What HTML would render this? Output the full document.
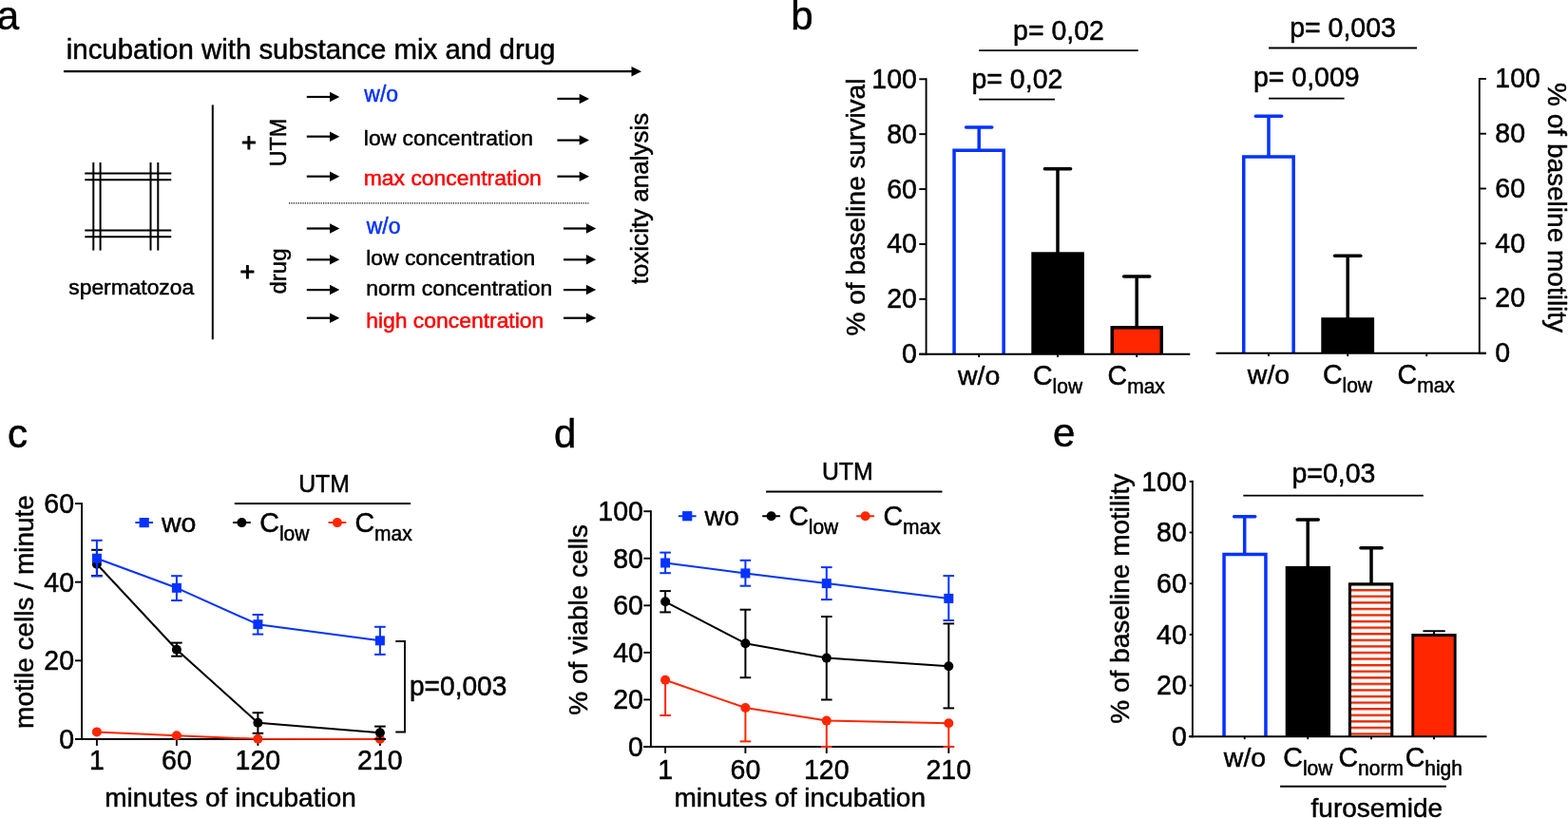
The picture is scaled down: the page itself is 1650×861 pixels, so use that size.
<!DOCTYPE html>
<html lang="en">
<head>
<meta charset="utf-8">
<title>Figure</title>
<style>
html, body { margin: 0; padding: 0; background: #fff; }
body { width: 1650px; height: 861px; overflow: hidden; }
svg { display: block; font-family: 'Liberation Sans', Arial, Helvetica, sans-serif; }
text { fill: #000; stroke: #000; stroke-width: 0.5px; stroke-linejoin: round; }
</style>
</head>
<body>
<svg width="1650" height="861" viewBox="0 0 1650 861">
<rect x="0" y="0" width="1650" height="861" fill="#fff"/>
<g id="panel-a">
<text transform="translate(-3.20 30.90)" font-size="42">a</text>
<text transform="translate(69.80 62.20)" font-size="29.4">incubation with substance mix and drug</text>
<line x1="67.00" y1="75.20" x2="665.50" y2="75.20" stroke="#000" stroke-width="2.2" stroke-linecap="butt"/>
<polygon points="675.00,75.20 664.50,69.95 664.50,80.45"/>
<line x1="223.80" y1="110.40" x2="223.80" y2="357.30" stroke="#000" stroke-width="2.0" stroke-linecap="butt"/>
<line x1="98.30" y1="171.00" x2="98.30" y2="263.60" stroke="#000" stroke-width="2.0" stroke-linecap="butt"/>
<line x1="105.60" y1="171.00" x2="105.60" y2="263.60" stroke="#000" stroke-width="2.0" stroke-linecap="butt"/>
<line x1="158.50" y1="171.00" x2="158.50" y2="263.60" stroke="#000" stroke-width="2.0" stroke-linecap="butt"/>
<line x1="166.30" y1="171.00" x2="166.30" y2="263.60" stroke="#000" stroke-width="2.0" stroke-linecap="butt"/>
<line x1="89.30" y1="182.50" x2="180.30" y2="182.50" stroke="#000" stroke-width="2.0" stroke-linecap="butt"/>
<line x1="89.30" y1="189.30" x2="180.30" y2="189.30" stroke="#000" stroke-width="2.0" stroke-linecap="butt"/>
<line x1="89.30" y1="242.50" x2="180.30" y2="242.50" stroke="#000" stroke-width="2.0" stroke-linecap="butt"/>
<line x1="89.30" y1="249.30" x2="180.30" y2="249.30" stroke="#000" stroke-width="2.0" stroke-linecap="butt"/>
<text transform="translate(72.30 309.70)" font-size="22.8">spermatozoa</text>
<text transform="translate(262.00 159.10)" font-size="27" text-anchor="middle" style="stroke-width:1.0px">+</text>
<text transform="translate(260.40 295.00)" font-size="27" text-anchor="middle" style="stroke-width:1.0px">+</text>
<text transform="translate(301.30 150.00) rotate(-90)" font-size="23.3" text-anchor="middle">UTM</text>
<text transform="translate(301.00 285.50) rotate(-90)" font-size="24" text-anchor="middle">drug</text>
<text transform="translate(682.30 209.00) rotate(-90)" font-size="26" text-anchor="middle">toxicity analysis</text>
<line x1="322.80" y1="102.00" x2="348.00" y2="102.00" stroke="#000" stroke-width="2.2" stroke-linecap="butt"/>
<polygon points="357.30,102.00 347.00,96.75 347.00,107.25"/>
<line x1="322.80" y1="143.70" x2="348.00" y2="143.70" stroke="#000" stroke-width="2.2" stroke-linecap="butt"/>
<polygon points="357.30,143.70 347.00,138.45 347.00,148.95"/>
<line x1="322.80" y1="185.70" x2="348.00" y2="185.70" stroke="#000" stroke-width="2.2" stroke-linecap="butt"/>
<polygon points="357.30,185.70 347.00,180.45 347.00,190.95"/>
<line x1="586.40" y1="103.90" x2="610.70" y2="103.90" stroke="#000" stroke-width="2.2" stroke-linecap="butt"/>
<polygon points="620.00,103.90 609.70,98.65 609.70,109.15"/>
<line x1="586.40" y1="147.60" x2="610.70" y2="147.60" stroke="#000" stroke-width="2.2" stroke-linecap="butt"/>
<polygon points="620.00,147.60 609.70,142.35 609.70,152.85"/>
<line x1="586.40" y1="185.70" x2="610.70" y2="185.70" stroke="#000" stroke-width="2.2" stroke-linecap="butt"/>
<polygon points="620.00,185.70 609.70,180.45 609.70,190.95"/>
<text transform="translate(383.30 106.60)" font-size="23" style="fill:#0433ff;stroke:#0433ff">w/o</text>
<text transform="translate(382.80 152.60)" font-size="22.9">low concentration</text>
<text transform="translate(382.80 195.20)" font-size="22.9" style="fill:#ff0000;stroke:#ff0000">max concentration</text>
<line x1="304" y1="213.8" x2="619.4" y2="213.8" stroke="#000" stroke-width="1.2" stroke-dasharray="1.2 1.2"/>
<line x1="322.80" y1="240.50" x2="348.00" y2="240.50" stroke="#000" stroke-width="2.2" stroke-linecap="butt"/>
<polygon points="357.30,240.50 347.00,235.25 347.00,245.75"/>
<line x1="593.00" y1="240.50" x2="617.90" y2="240.50" stroke="#000" stroke-width="2.2" stroke-linecap="butt"/>
<polygon points="627.20,240.50 616.90,235.25 616.90,245.75"/>
<line x1="322.80" y1="273.30" x2="348.00" y2="273.30" stroke="#000" stroke-width="2.2" stroke-linecap="butt"/>
<polygon points="357.30,273.30 347.00,268.05 347.00,278.55"/>
<line x1="593.00" y1="273.30" x2="617.90" y2="273.30" stroke="#000" stroke-width="2.2" stroke-linecap="butt"/>
<polygon points="627.20,273.30 616.90,268.05 616.90,278.55"/>
<line x1="322.80" y1="305.10" x2="348.00" y2="305.10" stroke="#000" stroke-width="2.2" stroke-linecap="butt"/>
<polygon points="357.30,305.10 347.00,299.85 347.00,310.35"/>
<line x1="593.00" y1="305.10" x2="617.90" y2="305.10" stroke="#000" stroke-width="2.2" stroke-linecap="butt"/>
<polygon points="627.20,305.10 616.90,299.85 616.90,310.35"/>
<line x1="322.80" y1="334.70" x2="348.00" y2="334.70" stroke="#000" stroke-width="2.2" stroke-linecap="butt"/>
<polygon points="357.30,334.70 347.00,329.45 347.00,339.95"/>
<line x1="593.00" y1="334.70" x2="617.90" y2="334.70" stroke="#000" stroke-width="2.2" stroke-linecap="butt"/>
<polygon points="627.20,334.70 616.90,329.45 616.90,339.95"/>
<text transform="translate(385.70 246.00)" font-size="23" style="fill:#0433ff;stroke:#0433ff">w/o</text>
<text transform="translate(385.20 279.10)" font-size="22.9">low concentration</text>
<text transform="translate(385.20 311.40)" font-size="22.9">norm concentration</text>
<text transform="translate(385.20 344.80)" font-size="22.9" style="fill:#ff0000;stroke:#ff0000">high concentration</text>
</g>
<g id="panel-b">
<text transform="translate(832.30 30.90)" font-size="42">b</text>
<line x1="1030.20" y1="134.00" x2="1030.20" y2="158.00" stroke="#0433ff" stroke-width="3.5" stroke-linecap="butt"/>
<line x1="1016.60" y1="134.00" x2="1043.80" y2="134.00" stroke="#0433ff" stroke-width="3.5" stroke-linecap="round"/>
<path d="M1004.05,372.70 L1004.05,158.35 L1056.15,158.35 L1056.15,372.70" fill="#fff" stroke="#0433ff" stroke-width="3.5"/>
<line x1="1113.00" y1="177.70" x2="1113.00" y2="266.00" stroke="#000" stroke-width="3.5" stroke-linecap="butt"/>
<line x1="1099.40" y1="177.70" x2="1126.60" y2="177.70" stroke="#000" stroke-width="3.5" stroke-linecap="round"/>
<rect x="1085.3" y="265.3" width="55.6" height="107.40"/>
<line x1="1196.20" y1="291.00" x2="1196.20" y2="344.00" stroke="#000" stroke-width="3.5" stroke-linecap="butt"/>
<line x1="1182.60" y1="291.00" x2="1209.80" y2="291.00" stroke="#000" stroke-width="3.5" stroke-linecap="round"/>
<path d="M1170.25,372.70 L1170.25,344.75 L1222.25,344.75 L1222.25,372.70" fill="#ff2600" stroke="#000" stroke-width="3.5"/>
<line x1="974.60" y1="82.35" x2="974.60" y2="373.65" stroke="#000" stroke-width="1.9" stroke-linecap="butt"/>
<line x1="967.30" y1="372.70" x2="1252.30" y2="372.70" stroke="#000" stroke-width="1.9" stroke-linecap="butt"/>
<line x1="967.30" y1="372.70" x2="974.60" y2="372.70" stroke="#000" stroke-width="1.9" stroke-linecap="butt"/>
<text transform="translate(964.90 382.20) scale(1 1.06)" font-size="28.5" text-anchor="end">0</text>
<line x1="967.30" y1="314.82" x2="974.60" y2="314.82" stroke="#000" stroke-width="1.9" stroke-linecap="butt"/>
<text transform="translate(964.90 324.32) scale(1 1.06)" font-size="28.5" text-anchor="end">20</text>
<line x1="967.30" y1="256.94" x2="974.60" y2="256.94" stroke="#000" stroke-width="1.9" stroke-linecap="butt"/>
<text transform="translate(964.90 266.44) scale(1 1.06)" font-size="28.5" text-anchor="end">40</text>
<line x1="967.30" y1="199.06" x2="974.60" y2="199.06" stroke="#000" stroke-width="1.9" stroke-linecap="butt"/>
<text transform="translate(964.90 208.56) scale(1 1.06)" font-size="28.5" text-anchor="end">60</text>
<line x1="967.30" y1="141.18" x2="974.60" y2="141.18" stroke="#000" stroke-width="1.9" stroke-linecap="butt"/>
<text transform="translate(964.90 150.68) scale(1 1.06)" font-size="28.5" text-anchor="end">80</text>
<line x1="967.30" y1="83.30" x2="974.60" y2="83.30" stroke="#000" stroke-width="1.9" stroke-linecap="butt"/>
<text transform="translate(964.90 92.80) scale(1 1.06)" font-size="28.5" text-anchor="end">100</text>
<line x1="1030.20" y1="372.70" x2="1030.20" y2="376.00" stroke="#000" stroke-width="1.9" stroke-linecap="butt"/>
<line x1="1113.00" y1="372.70" x2="1113.00" y2="376.00" stroke="#000" stroke-width="1.9" stroke-linecap="butt"/>
<line x1="1196.20" y1="372.70" x2="1196.20" y2="376.00" stroke="#000" stroke-width="1.9" stroke-linecap="butt"/>
<text transform="translate(909.60 218.00) rotate(-90)" font-size="28" text-anchor="middle">% of baseline survival</text>
<text transform="translate(1030.20 405.20)" font-size="28.5" text-anchor="middle">w/o</text>
<text transform="translate(1087.00 405.20) scale(1 1.06)" font-size="28.5">C<tspan font-size="21" dy="8.6">low</tspan></text>
<text transform="translate(1165.60 405.20) scale(1 1.06)" font-size="28.5">C<tspan font-size="21" dy="8.6">max</tspan></text>
<text transform="translate(1114.00 41.70) scale(1 1.06)" font-size="28.5" text-anchor="middle">p= 0,02</text>
<line x1="1030.20" y1="53.10" x2="1197.70" y2="53.10" stroke="#000" stroke-width="1.9" stroke-linecap="butt"/>
<text transform="translate(1070.40 92.80) scale(1 1.06)" font-size="28.5" text-anchor="middle">p= 0,02</text>
<line x1="1030.20" y1="104.60" x2="1110.00" y2="104.60" stroke="#000" stroke-width="1.9" stroke-linecap="butt"/>
<line x1="1335.00" y1="122.30" x2="1335.00" y2="165.00" stroke="#0433ff" stroke-width="3.5" stroke-linecap="butt"/>
<line x1="1321.40" y1="122.30" x2="1348.60" y2="122.30" stroke="#0433ff" stroke-width="3.5" stroke-linecap="round"/>
<path d="M1308.75,371.80 L1308.75,165.05 L1361.15,165.05 L1361.15,371.80" fill="#fff" stroke="#0433ff" stroke-width="3.5"/>
<line x1="1418.20" y1="269.20" x2="1418.20" y2="335.00" stroke="#000" stroke-width="3.5" stroke-linecap="butt"/>
<line x1="1404.60" y1="269.20" x2="1431.80" y2="269.20" stroke="#000" stroke-width="3.5" stroke-linecap="round"/>
<rect x="1390.3" y="334.2" width="55.8" height="37.60"/>
<line x1="1556.80" y1="82.00" x2="1556.80" y2="372.75" stroke="#000" stroke-width="1.9" stroke-linecap="butt"/>
<line x1="1279.60" y1="371.80" x2="1563.90" y2="371.80" stroke="#000" stroke-width="1.9" stroke-linecap="butt"/>
<line x1="1556.80" y1="371.80" x2="1563.90" y2="371.80" stroke="#000" stroke-width="1.9" stroke-linecap="butt"/>
<text transform="translate(1573.30 381.20) scale(1 1.06)" font-size="28.5">0</text>
<line x1="1556.80" y1="314.03" x2="1563.90" y2="314.03" stroke="#000" stroke-width="1.9" stroke-linecap="butt"/>
<text transform="translate(1573.30 323.43) scale(1 1.06)" font-size="28.5">20</text>
<line x1="1556.80" y1="256.26" x2="1563.90" y2="256.26" stroke="#000" stroke-width="1.9" stroke-linecap="butt"/>
<text transform="translate(1573.30 265.66) scale(1 1.06)" font-size="28.5">40</text>
<line x1="1556.80" y1="198.49" x2="1563.90" y2="198.49" stroke="#000" stroke-width="1.9" stroke-linecap="butt"/>
<text transform="translate(1573.30 207.89) scale(1 1.06)" font-size="28.5">60</text>
<line x1="1556.80" y1="140.72" x2="1563.90" y2="140.72" stroke="#000" stroke-width="1.9" stroke-linecap="butt"/>
<text transform="translate(1573.30 150.12) scale(1 1.06)" font-size="28.5">80</text>
<line x1="1556.80" y1="82.95" x2="1563.90" y2="82.95" stroke="#000" stroke-width="1.9" stroke-linecap="butt"/>
<text transform="translate(1573.30 92.35) scale(1 1.06)" font-size="28.5">100</text>
<line x1="1335.00" y1="371.80" x2="1335.00" y2="375.10" stroke="#000" stroke-width="1.9" stroke-linecap="butt"/>
<line x1="1418.20" y1="371.80" x2="1418.20" y2="375.10" stroke="#000" stroke-width="1.9" stroke-linecap="butt"/>
<line x1="1501.20" y1="371.80" x2="1501.20" y2="375.10" stroke="#000" stroke-width="1.9" stroke-linecap="butt"/>
<text transform="translate(1628.60 218.60) rotate(90)" font-size="28" text-anchor="middle">% of baseline motility</text>
<text transform="translate(1335.00 404.20)" font-size="28.5" text-anchor="middle">w/o</text>
<text transform="translate(1391.90 404.20) scale(1 1.06)" font-size="28.5">C<tspan font-size="21" dy="8.6">low</tspan></text>
<text transform="translate(1470.60 404.20) scale(1 1.06)" font-size="28.5">C<tspan font-size="21" dy="8.6">max</tspan></text>
<text transform="translate(1413.00 38.50) scale(1 1.06)" font-size="28.5" text-anchor="middle">p= 0,003</text>
<line x1="1335.00" y1="50.50" x2="1491.00" y2="50.50" stroke="#000" stroke-width="1.9" stroke-linecap="butt"/>
<text transform="translate(1374.80 91.40) scale(1 1.06)" font-size="28.5" text-anchor="middle">p= 0,009</text>
<line x1="1335.00" y1="103.60" x2="1414.60" y2="103.60" stroke="#000" stroke-width="1.9" stroke-linecap="butt"/>
</g>
<g id="panel-c">
<text transform="translate(8.00 470.80)" font-size="42">c</text>
<line x1="86.10" y1="529.05" x2="86.10" y2="778.95" stroke="#000" stroke-width="1.9" stroke-linecap="butt"/>
<line x1="79.00" y1="778.00" x2="405.80" y2="778.00" stroke="#000" stroke-width="1.9" stroke-linecap="butt"/>
<line x1="79.00" y1="778.00" x2="86.10" y2="778.00" stroke="#000" stroke-width="1.9" stroke-linecap="butt"/>
<text transform="translate(78.00 788.10) scale(1 1.06)" font-size="28.5" text-anchor="end">0</text>
<line x1="79.00" y1="695.33" x2="86.10" y2="695.33" stroke="#000" stroke-width="1.9" stroke-linecap="butt"/>
<text transform="translate(78.00 705.43) scale(1 1.06)" font-size="28.5" text-anchor="end">20</text>
<line x1="79.00" y1="612.67" x2="86.10" y2="612.67" stroke="#000" stroke-width="1.9" stroke-linecap="butt"/>
<text transform="translate(78.00 622.77) scale(1 1.06)" font-size="28.5" text-anchor="end">40</text>
<line x1="79.00" y1="530.00" x2="86.10" y2="530.00" stroke="#000" stroke-width="1.9" stroke-linecap="butt"/>
<text transform="translate(78.00 540.10) scale(1 1.06)" font-size="28.5" text-anchor="end">60</text>
<line x1="101.90" y1="778.00" x2="101.90" y2="784.90" stroke="#000" stroke-width="1.9" stroke-linecap="butt"/>
<text transform="translate(101.90 809.90) scale(1 1.06)" font-size="28.5" text-anchor="middle">1</text>
<line x1="185.90" y1="778.00" x2="185.90" y2="784.90" stroke="#000" stroke-width="1.9" stroke-linecap="butt"/>
<text transform="translate(185.90 809.90) scale(1 1.06)" font-size="28.5" text-anchor="middle">60</text>
<line x1="271.40" y1="778.00" x2="271.40" y2="784.90" stroke="#000" stroke-width="1.9" stroke-linecap="butt"/>
<text transform="translate(271.40 809.90) scale(1 1.06)" font-size="28.5" text-anchor="middle">120</text>
<line x1="399.90" y1="778.00" x2="399.90" y2="784.90" stroke="#000" stroke-width="1.9" stroke-linecap="butt"/>
<text transform="translate(399.90 809.90) scale(1 1.06)" font-size="28.5" text-anchor="middle">210</text>
<text transform="translate(242.50 848.80)" font-size="28" text-anchor="middle">minutes of incubation</text>
<text transform="translate(34.70 644.00) rotate(-90)" font-size="28" text-anchor="middle">motile cells / minute</text>
<polyline points="101.90,770.40 185.90,774.20 271.40,777.80 399.90,778.00" fill="none" stroke="#ff2600" stroke-width="2.0" stroke-linejoin="round"/>
<circle cx="101.90" cy="770.40" r="5.0" fill="#ff2600"/>
<circle cx="185.90" cy="774.20" r="5.0" fill="#ff2600"/>
<circle cx="271.40" cy="777.80" r="5.0" fill="#ff2600"/>
<circle cx="399.90" cy="778.00" r="5.0" fill="#ff2600"/>
<polyline points="101.90,593.80 185.90,683.70 271.40,760.80 399.90,771.20" fill="none" stroke="#000" stroke-width="2.0" stroke-linejoin="round"/>
<line x1="101.90" y1="578.80" x2="101.90" y2="606.00" stroke="#000" stroke-width="2.0" stroke-linecap="butt"/>
<line x1="96.10" y1="578.80" x2="107.70" y2="578.80" stroke="#000" stroke-width="2.0" stroke-linecap="butt"/>
<line x1="96.10" y1="606.00" x2="107.70" y2="606.00" stroke="#000" stroke-width="2.0" stroke-linecap="butt"/>
<circle cx="101.90" cy="593.80" r="5.0" fill="#000"/>
<line x1="185.90" y1="676.60" x2="185.90" y2="690.70" stroke="#000" stroke-width="2.0" stroke-linecap="butt"/>
<line x1="180.10" y1="676.60" x2="191.70" y2="676.60" stroke="#000" stroke-width="2.0" stroke-linecap="butt"/>
<line x1="180.10" y1="690.70" x2="191.70" y2="690.70" stroke="#000" stroke-width="2.0" stroke-linecap="butt"/>
<circle cx="185.90" cy="683.70" r="5.0" fill="#000"/>
<line x1="271.40" y1="750.20" x2="271.40" y2="771.80" stroke="#000" stroke-width="2.0" stroke-linecap="butt"/>
<line x1="265.60" y1="750.20" x2="277.20" y2="750.20" stroke="#000" stroke-width="2.0" stroke-linecap="butt"/>
<line x1="265.60" y1="771.80" x2="277.20" y2="771.80" stroke="#000" stroke-width="2.0" stroke-linecap="butt"/>
<circle cx="271.40" cy="760.80" r="5.0" fill="#000"/>
<line x1="399.90" y1="764.60" x2="399.90" y2="777.90" stroke="#000" stroke-width="2.0" stroke-linecap="butt"/>
<line x1="394.10" y1="764.60" x2="405.70" y2="764.60" stroke="#000" stroke-width="2.0" stroke-linecap="butt"/>
<line x1="394.10" y1="777.90" x2="405.70" y2="777.90" stroke="#000" stroke-width="2.0" stroke-linecap="butt"/>
<circle cx="399.90" cy="771.20" r="5.0" fill="#000"/>
<polyline points="101.90,587.70 185.90,618.80 271.40,657.20 399.90,674.30" fill="none" stroke="#0433ff" stroke-width="2.0" stroke-linejoin="round"/>
<line x1="101.90" y1="568.80" x2="101.90" y2="606.50" stroke="#0433ff" stroke-width="2.0" stroke-linecap="butt"/>
<line x1="96.10" y1="568.80" x2="107.70" y2="568.80" stroke="#0433ff" stroke-width="2.0" stroke-linecap="butt"/>
<line x1="96.10" y1="606.50" x2="107.70" y2="606.50" stroke="#0433ff" stroke-width="2.0" stroke-linecap="butt"/>
<rect x="96.90" y="582.70" width="10.0" height="10.0" fill="#0433ff"/>
<line x1="185.90" y1="606.20" x2="185.90" y2="632.00" stroke="#0433ff" stroke-width="2.0" stroke-linecap="butt"/>
<line x1="180.10" y1="606.20" x2="191.70" y2="606.20" stroke="#0433ff" stroke-width="2.0" stroke-linecap="butt"/>
<line x1="180.10" y1="632.00" x2="191.70" y2="632.00" stroke="#0433ff" stroke-width="2.0" stroke-linecap="butt"/>
<rect x="180.90" y="613.80" width="10.0" height="10.0" fill="#0433ff"/>
<line x1="271.40" y1="647.00" x2="271.40" y2="667.60" stroke="#0433ff" stroke-width="2.0" stroke-linecap="butt"/>
<line x1="265.60" y1="647.00" x2="277.20" y2="647.00" stroke="#0433ff" stroke-width="2.0" stroke-linecap="butt"/>
<line x1="265.60" y1="667.60" x2="277.20" y2="667.60" stroke="#0433ff" stroke-width="2.0" stroke-linecap="butt"/>
<rect x="266.40" y="652.20" width="10.0" height="10.0" fill="#0433ff"/>
<line x1="399.90" y1="659.80" x2="399.90" y2="688.90" stroke="#0433ff" stroke-width="2.0" stroke-linecap="butt"/>
<line x1="394.10" y1="659.80" x2="405.70" y2="659.80" stroke="#0433ff" stroke-width="2.0" stroke-linecap="butt"/>
<line x1="394.10" y1="688.90" x2="405.70" y2="688.90" stroke="#0433ff" stroke-width="2.0" stroke-linecap="butt"/>
<rect x="394.90" y="669.30" width="10.0" height="10.0" fill="#0433ff"/>
<line x1="143.10" y1="550.10" x2="160.30" y2="550.10" stroke="#0433ff" stroke-width="2.0" stroke-linecap="round"/>
<rect x="146.60" y="545.00" width="10.2" height="10.2" fill="#0433ff"/>
<text transform="translate(170.00 559.50)" font-size="28.5">wo</text>
<line x1="245.80" y1="550.10" x2="263.00" y2="550.10" stroke="#000" stroke-width="2.0" stroke-linecap="round"/>
<circle cx="254.40" cy="550.10" r="5.0" fill="#000"/>
<text transform="translate(273.30 559.90) scale(1 1.06)" font-size="28.5">C<tspan font-size="21" dy="8.6">low</tspan></text>
<line x1="346.30" y1="550.10" x2="363.50" y2="550.10" stroke="#ff2600" stroke-width="2.0" stroke-linecap="round"/>
<circle cx="354.90" cy="550.10" r="5.0" fill="#ff2600"/>
<text transform="translate(373.50 559.90) scale(1 1.06)" font-size="28.5">C<tspan font-size="21" dy="8.6">max</tspan></text>
<text transform="translate(341.00 518.00) scale(1 1.04)" font-size="24.8" text-anchor="middle">UTM</text>
<line x1="246.80" y1="530.00" x2="432.00" y2="530.00" stroke="#000" stroke-width="1.9" stroke-linecap="butt"/>
<polyline points="416.3,675 426,675 426,770.5 416.3,770.5" fill="none" stroke="#000" stroke-width="1.9"/>
<text transform="translate(431.00 732.30) scale(1 1.06)" font-size="28.1">p=0,003</text>
</g>
<g id="panel-d">
<text transform="translate(583.00 470.60)" font-size="42">d</text>
<line x1="684.90" y1="537.25" x2="684.90" y2="786.95" stroke="#000" stroke-width="1.9" stroke-linecap="butt"/>
<line x1="677.30" y1="786.00" x2="1004.10" y2="786.00" stroke="#000" stroke-width="1.9" stroke-linecap="butt"/>
<line x1="677.30" y1="786.00" x2="684.90" y2="786.00" stroke="#000" stroke-width="1.9" stroke-linecap="butt"/>
<text transform="translate(676.90 795.90) scale(1 1.06)" font-size="28.5" text-anchor="end">0</text>
<line x1="677.30" y1="736.44" x2="684.90" y2="736.44" stroke="#000" stroke-width="1.9" stroke-linecap="butt"/>
<text transform="translate(676.90 746.34) scale(1 1.06)" font-size="28.5" text-anchor="end">20</text>
<line x1="677.30" y1="686.88" x2="684.90" y2="686.88" stroke="#000" stroke-width="1.9" stroke-linecap="butt"/>
<text transform="translate(676.90 696.78) scale(1 1.06)" font-size="28.5" text-anchor="end">40</text>
<line x1="677.30" y1="637.32" x2="684.90" y2="637.32" stroke="#000" stroke-width="1.9" stroke-linecap="butt"/>
<text transform="translate(676.90 647.22) scale(1 1.06)" font-size="28.5" text-anchor="end">60</text>
<line x1="677.30" y1="587.76" x2="684.90" y2="587.76" stroke="#000" stroke-width="1.9" stroke-linecap="butt"/>
<text transform="translate(676.90 597.66) scale(1 1.06)" font-size="28.5" text-anchor="end">80</text>
<line x1="677.30" y1="538.20" x2="684.90" y2="538.20" stroke="#000" stroke-width="1.9" stroke-linecap="butt"/>
<text transform="translate(676.90 548.10) scale(1 1.06)" font-size="28.5" text-anchor="end">100</text>
<line x1="700.10" y1="786.00" x2="700.10" y2="792.90" stroke="#000" stroke-width="1.9" stroke-linecap="butt"/>
<text transform="translate(700.10 819.60) scale(1 1.06)" font-size="28.5" text-anchor="middle">1</text>
<line x1="784.40" y1="786.00" x2="784.40" y2="792.90" stroke="#000" stroke-width="1.9" stroke-linecap="butt"/>
<text transform="translate(784.40 819.60) scale(1 1.06)" font-size="28.5" text-anchor="middle">60</text>
<line x1="869.80" y1="786.00" x2="869.80" y2="792.90" stroke="#000" stroke-width="1.9" stroke-linecap="butt"/>
<text transform="translate(869.80 819.60) scale(1 1.06)" font-size="28.5" text-anchor="middle">120</text>
<line x1="998.30" y1="786.00" x2="998.30" y2="792.90" stroke="#000" stroke-width="1.9" stroke-linecap="butt"/>
<text transform="translate(998.30 819.60) scale(1 1.06)" font-size="28.5" text-anchor="middle">210</text>
<text transform="translate(841.70 848.80)" font-size="28" text-anchor="middle">minutes of incubation</text>
<text transform="translate(618.00 652.30) rotate(-90)" font-size="28" text-anchor="middle">% of viable cells</text>
<polyline points="700.10,715.80 784.40,745.00 869.80,758.60 998.30,761.20" fill="none" stroke="#ff2600" stroke-width="2.0" stroke-linejoin="round"/>
<line x1="700.10" y1="715.80" x2="700.10" y2="753.00" stroke="#ff2600" stroke-width="2.0" stroke-linecap="butt"/>
<line x1="694.30" y1="753.00" x2="705.90" y2="753.00" stroke="#ff2600" stroke-width="2.0" stroke-linecap="butt"/>
<circle cx="700.10" cy="715.80" r="5.0" fill="#ff2600"/>
<line x1="784.40" y1="745.00" x2="784.40" y2="780.40" stroke="#ff2600" stroke-width="2.0" stroke-linecap="butt"/>
<line x1="778.60" y1="780.40" x2="790.20" y2="780.40" stroke="#ff2600" stroke-width="2.0" stroke-linecap="butt"/>
<circle cx="784.40" cy="745.00" r="5.0" fill="#ff2600"/>
<line x1="869.80" y1="758.60" x2="869.80" y2="786.00" stroke="#ff2600" stroke-width="2.0" stroke-linecap="butt"/>
<line x1="864.00" y1="786.00" x2="875.60" y2="786.00" stroke="#ff2600" stroke-width="2.0" stroke-linecap="butt"/>
<circle cx="869.80" cy="758.60" r="5.0" fill="#ff2600"/>
<line x1="998.30" y1="761.20" x2="998.30" y2="786.00" stroke="#ff2600" stroke-width="2.0" stroke-linecap="butt"/>
<line x1="992.50" y1="786.00" x2="1004.10" y2="786.00" stroke="#ff2600" stroke-width="2.0" stroke-linecap="butt"/>
<circle cx="998.30" cy="761.20" r="5.0" fill="#ff2600"/>
<polyline points="700.10,633.30 784.40,677.20 869.80,692.60 998.30,701.30" fill="none" stroke="#000" stroke-width="2.0" stroke-linejoin="round"/>
<line x1="700.10" y1="622.10" x2="700.10" y2="644.40" stroke="#000" stroke-width="2.0" stroke-linecap="butt"/>
<line x1="694.30" y1="622.10" x2="705.90" y2="622.10" stroke="#000" stroke-width="2.0" stroke-linecap="butt"/>
<line x1="694.30" y1="644.40" x2="705.90" y2="644.40" stroke="#000" stroke-width="2.0" stroke-linecap="butt"/>
<circle cx="700.10" cy="633.30" r="5.0" fill="#000"/>
<line x1="784.40" y1="641.70" x2="784.40" y2="713.20" stroke="#000" stroke-width="2.0" stroke-linecap="butt"/>
<line x1="778.60" y1="641.70" x2="790.20" y2="641.70" stroke="#000" stroke-width="2.0" stroke-linecap="butt"/>
<line x1="778.60" y1="713.20" x2="790.20" y2="713.20" stroke="#000" stroke-width="2.0" stroke-linecap="butt"/>
<circle cx="784.40" cy="677.20" r="5.0" fill="#000"/>
<line x1="869.80" y1="649.00" x2="869.80" y2="736.50" stroke="#000" stroke-width="2.0" stroke-linecap="butt"/>
<line x1="864.00" y1="649.00" x2="875.60" y2="649.00" stroke="#000" stroke-width="2.0" stroke-linecap="butt"/>
<line x1="864.00" y1="736.50" x2="875.60" y2="736.50" stroke="#000" stroke-width="2.0" stroke-linecap="butt"/>
<circle cx="869.80" cy="692.60" r="5.0" fill="#000"/>
<line x1="998.30" y1="656.40" x2="998.30" y2="745.40" stroke="#000" stroke-width="2.0" stroke-linecap="butt"/>
<line x1="992.50" y1="656.40" x2="1004.10" y2="656.40" stroke="#000" stroke-width="2.0" stroke-linecap="butt"/>
<line x1="992.50" y1="745.40" x2="1004.10" y2="745.40" stroke="#000" stroke-width="2.0" stroke-linecap="butt"/>
<circle cx="998.30" cy="701.30" r="5.0" fill="#000"/>
<polyline points="700.10,592.50 784.40,603.40 869.80,614.10 998.30,629.90" fill="none" stroke="#0433ff" stroke-width="2.0" stroke-linejoin="round"/>
<line x1="700.10" y1="581.60" x2="700.10" y2="603.20" stroke="#0433ff" stroke-width="2.0" stroke-linecap="butt"/>
<line x1="694.30" y1="581.60" x2="705.90" y2="581.60" stroke="#0433ff" stroke-width="2.0" stroke-linecap="butt"/>
<line x1="694.30" y1="603.20" x2="705.90" y2="603.20" stroke="#0433ff" stroke-width="2.0" stroke-linecap="butt"/>
<rect x="695.10" y="587.50" width="10.0" height="10.0" fill="#0433ff"/>
<line x1="784.40" y1="589.80" x2="784.40" y2="616.70" stroke="#0433ff" stroke-width="2.0" stroke-linecap="butt"/>
<line x1="778.60" y1="589.80" x2="790.20" y2="589.80" stroke="#0433ff" stroke-width="2.0" stroke-linecap="butt"/>
<line x1="778.60" y1="616.70" x2="790.20" y2="616.70" stroke="#0433ff" stroke-width="2.0" stroke-linecap="butt"/>
<rect x="779.40" y="598.40" width="10.0" height="10.0" fill="#0433ff"/>
<line x1="869.80" y1="597.10" x2="869.80" y2="631.10" stroke="#0433ff" stroke-width="2.0" stroke-linecap="butt"/>
<line x1="864.00" y1="597.10" x2="875.60" y2="597.10" stroke="#0433ff" stroke-width="2.0" stroke-linecap="butt"/>
<line x1="864.00" y1="631.10" x2="875.60" y2="631.10" stroke="#0433ff" stroke-width="2.0" stroke-linecap="butt"/>
<rect x="864.80" y="609.10" width="10.0" height="10.0" fill="#0433ff"/>
<line x1="998.30" y1="606.10" x2="998.30" y2="653.00" stroke="#0433ff" stroke-width="2.0" stroke-linecap="butt"/>
<line x1="992.50" y1="606.10" x2="1004.10" y2="606.10" stroke="#0433ff" stroke-width="2.0" stroke-linecap="butt"/>
<line x1="992.50" y1="653.00" x2="1004.10" y2="653.00" stroke="#0433ff" stroke-width="2.0" stroke-linecap="butt"/>
<rect x="993.30" y="624.90" width="10.0" height="10.0" fill="#0433ff"/>
<line x1="714.60" y1="543.20" x2="731.80" y2="543.20" stroke="#0433ff" stroke-width="2.0" stroke-linecap="round"/>
<rect x="718.10" y="538.10" width="10.2" height="10.2" fill="#0433ff"/>
<text transform="translate(741.50 552.90)" font-size="28.5">wo</text>
<line x1="803.00" y1="543.20" x2="820.20" y2="543.20" stroke="#000" stroke-width="2.0" stroke-linecap="round"/>
<circle cx="811.60" cy="543.20" r="5.0" fill="#000"/>
<text transform="translate(830.20 552.90) scale(1 1.06)" font-size="28.5">C<tspan font-size="21" dy="8.6">low</tspan></text>
<line x1="902.00" y1="543.20" x2="919.20" y2="543.20" stroke="#ff2600" stroke-width="2.0" stroke-linecap="round"/>
<circle cx="910.60" cy="543.20" r="5.0" fill="#ff2600"/>
<text transform="translate(929.40 552.90) scale(1 1.06)" font-size="28.5">C<tspan font-size="21" dy="8.6">max</tspan></text>
<text transform="translate(891.80 505.30) scale(1 1.04)" font-size="24.8" text-anchor="middle">UTM</text>
<line x1="806.10" y1="517.50" x2="991.50" y2="517.50" stroke="#000" stroke-width="1.9" stroke-linecap="butt"/>
</g>
<g id="panel-e">
<text transform="translate(1108.00 470.00)" font-size="42">e</text>
<defs><pattern id="st" x="0" y="1.48" width="10" height="6.58" patternUnits="userSpaceOnUse"><rect x="0" y="0" width="10" height="2.4" fill="#ea2800"/></pattern></defs>
<line x1="1309.70" y1="543.70" x2="1309.70" y2="583.00" stroke="#0433ff" stroke-width="3.5" stroke-linecap="butt"/>
<line x1="1298.65" y1="543.70" x2="1320.75" y2="543.70" stroke="#0433ff" stroke-width="3.5" stroke-linecap="round"/>
<path d="M1288.05,775.25 L1288.05,583.55 L1331.95,583.55 L1331.95,775.25" fill="#fff" stroke="#0433ff" stroke-width="3.5"/>
<line x1="1376.20" y1="547.10" x2="1376.20" y2="597.00" stroke="#000" stroke-width="3.5" stroke-linecap="butt"/>
<line x1="1365.15" y1="547.10" x2="1387.25" y2="547.10" stroke="#000" stroke-width="3.5" stroke-linecap="round"/>
<rect x="1352.7" y="595.9" width="47.3" height="179.35"/>
<line x1="1443.00" y1="576.70" x2="1443.00" y2="614.50" stroke="#000" stroke-width="3.5" stroke-linecap="butt"/>
<line x1="1431.95" y1="576.70" x2="1454.05" y2="576.70" stroke="#000" stroke-width="3.5" stroke-linecap="round"/>
<rect x="1420" y="614.5" width="45" height="160.75" fill="#fff"/>
<rect x="1420" y="614.5" width="45" height="160.75" fill="url(#st)"/>
<path d="M1420.45,775.25 L1420.45,614.85 L1464.75,614.85 L1464.75,775.25" fill="none" stroke="#000" stroke-width="3.1"/>
<line x1="1509.00" y1="664.20" x2="1509.00" y2="668.00" stroke="#000" stroke-width="1.9" stroke-linecap="butt"/>
<line x1="1498.20" y1="664.20" x2="1520.00" y2="664.20" stroke="#000" stroke-width="1.9" stroke-linecap="round"/>
<path d="M1486.75,775.25 L1486.75,668.45 L1531.15,668.45 L1531.15,775.25" fill="#ff2600" stroke="#000" stroke-width="2.9"/>
<line x1="1254.90" y1="505.85" x2="1254.90" y2="776.20" stroke="#000" stroke-width="1.9" stroke-linecap="butt"/>
<line x1="1251.70" y1="775.25" x2="1563.70" y2="775.25" stroke="#000" stroke-width="1.9" stroke-linecap="round"/>
<line x1="1251.70" y1="775.25" x2="1254.90" y2="775.25" stroke="#000" stroke-width="1.9" stroke-linecap="butt"/>
<text transform="translate(1248.80 785.15) scale(1 1.06)" font-size="28.5" text-anchor="end">0</text>
<line x1="1251.70" y1="721.56" x2="1254.90" y2="721.56" stroke="#000" stroke-width="1.9" stroke-linecap="butt"/>
<text transform="translate(1248.80 731.46) scale(1 1.06)" font-size="28.5" text-anchor="end">20</text>
<line x1="1251.70" y1="667.87" x2="1254.90" y2="667.87" stroke="#000" stroke-width="1.9" stroke-linecap="butt"/>
<text transform="translate(1248.80 677.77) scale(1 1.06)" font-size="28.5" text-anchor="end">40</text>
<line x1="1251.70" y1="614.18" x2="1254.90" y2="614.18" stroke="#000" stroke-width="1.9" stroke-linecap="butt"/>
<text transform="translate(1248.80 624.08) scale(1 1.06)" font-size="28.5" text-anchor="end">60</text>
<line x1="1251.70" y1="560.49" x2="1254.90" y2="560.49" stroke="#000" stroke-width="1.9" stroke-linecap="butt"/>
<text transform="translate(1248.80 570.39) scale(1 1.06)" font-size="28.5" text-anchor="end">80</text>
<line x1="1251.70" y1="506.80" x2="1254.90" y2="506.80" stroke="#000" stroke-width="1.9" stroke-linecap="butt"/>
<text transform="translate(1248.80 516.70) scale(1 1.06)" font-size="28.5" text-anchor="end">100</text>
<line x1="1309.70" y1="775.25" x2="1309.70" y2="778.15" stroke="#000" stroke-width="1.9" stroke-linecap="butt"/>
<line x1="1376.20" y1="775.25" x2="1376.20" y2="778.15" stroke="#000" stroke-width="1.9" stroke-linecap="butt"/>
<line x1="1443.00" y1="775.25" x2="1443.00" y2="778.15" stroke="#000" stroke-width="1.9" stroke-linecap="butt"/>
<line x1="1509.00" y1="775.25" x2="1509.00" y2="778.15" stroke="#000" stroke-width="1.9" stroke-linecap="butt"/>
<text transform="translate(1188.00 630.20) rotate(-90)" font-size="28" text-anchor="middle">% of baseline motility</text>
<text transform="translate(1310.00 807.00)" font-size="28.5" text-anchor="middle">w/o</text>
<text transform="translate(1350.30 807.00) scale(1 1.06)" font-size="28.5">C<tspan font-size="21" dy="8.6">low</tspan></text>
<text transform="translate(1408.50 807.00) scale(1 1.06)" font-size="28.5">C<tspan font-size="21" dy="8.6">norm</tspan></text>
<text transform="translate(1478.70 807.00) scale(1 1.06)" font-size="28.5">C<tspan font-size="21" dy="8.6">high</tspan></text>
<line x1="1347.10" y1="827.70" x2="1521.80" y2="827.70" stroke="#000" stroke-width="1.9" stroke-linecap="butt"/>
<text transform="translate(1448.80 860.30)" font-size="28" text-anchor="middle">furosemide</text>
<text transform="translate(1403.40 508.00) scale(1 1.06)" font-size="28.5" text-anchor="middle">p=0,03</text>
<line x1="1308.30" y1="521.60" x2="1497.80" y2="521.60" stroke="#000" stroke-width="1.9" stroke-linecap="butt"/>
</g>
</svg>
</body>
</html>
